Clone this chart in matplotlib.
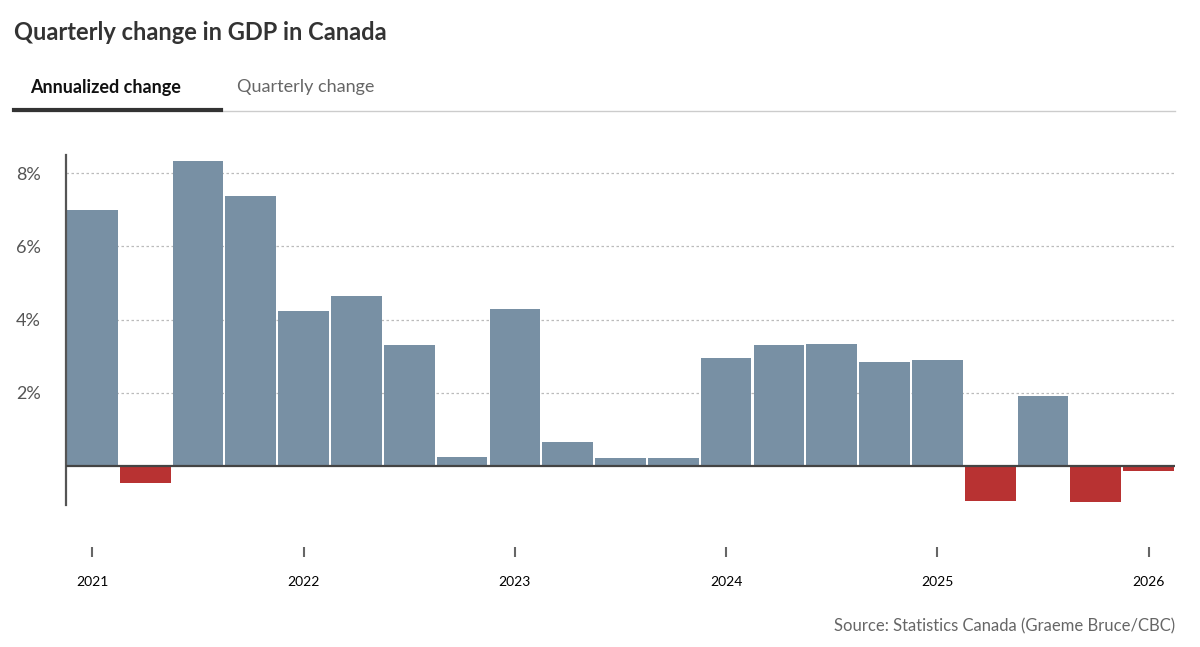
import matplotlib
matplotlib.use("Agg")
import matplotlib.pyplot as plt
from matplotlib.lines import Line2D

plt.rcParams['font.family'] = ['Lato', 'DejaVu Sans']

quarters = ["2021Q1","2021Q2","2021Q3","2021Q4","2022Q1","2022Q2","2022Q3","2022Q4",
            "2023Q1","2023Q2","2023Q3","2023Q4","2024Q1","2024Q2","2024Q3","2024Q4",
            "2025Q1","2025Q2","2025Q3","2025Q4","2026Q1"]
values = [7.0, -0.46, 8.33, 7.38, 4.23, 4.64, 3.3, 0.25, 4.29, 0.66, 0.22, 0.22,
          2.95, 3.3, 3.33, 2.84, 2.9, -0.96, 1.91, -0.98, -0.14]
year_labels = ["2021", "2022", "2023", "2024", "2025", "2026"]
year_idx = [0, 4, 8, 12, 16, 20]
yticks = [2, 4, 6, 8]

W, H = 1200, 647
fig = plt.figure(figsize=(12, 6.47), dpi=100)
ax = fig.add_axes([66/W, 1-505/H, (1175-66)/W, 350/H])

x = list(range(len(values)))
colors = ["#7890a4" if v >= 0 else "#b83232" for v in values]
ax.bar(x, values, width=0.96, color=colors, zorder=2)
ax.set_xlim(-0.5, 20.5)
ax.set_ylim(-1.066, 8.5)

ax.set_yticks(yticks)
ax.set_yticklabels([f"{t}%" for t in yticks], fontsize=13, color="#555")
ax.tick_params(axis='y', length=0, pad=18)
ax.grid(axis='y', linestyle=(0, (2, 2)), color="#bbb", linewidth=0.9, zorder=0)
ax.axhline(0, color="#444", linewidth=1.6, zorder=3)

ax.set_xticks(year_idx)
ax.set_xticklabels(year_labels, fontsize=13, color="#555")
ax.spines['bottom'].set_position(('outward', 30))
ax.spines['bottom'].set_visible(False)
ax.tick_params(axis='x', length=7, width=1.5, color="#666", pad=14)

for s in ['top', 'right']:
    ax.spines[s].set_visible(False)
ax.spines['left'].set_color("#555")
ax.spines['left'].set_linewidth(1.6)

fig.text(14/W, 1-32/H, "Quarterly change in GDP in Canada", fontsize=17, fontweight='bold',
         color="#333", va='center', ha='left')
fig.text(30/W, 1-87/H, "Annualized change", fontsize=13, fontweight='bold',
         color="#111", va='center', ha='left')
fig.text(237/W, 1-87/H, "Quarterly change", fontsize=13, color="#666", va='center', ha='left')
fig.add_artist(Line2D([14/W, 1175/W], [1-111/H, 1-111/H], color="#ccc", linewidth=1))
fig.add_artist(Line2D([14/W, 221/W], [1-110/H, 1-110/H], color="#333", linewidth=3))
fig.text(1175/W, 1-626/H, "Source: Statistics Canada (Graeme Bruce/CBC)", fontsize=12,
         color="#666", va='center', ha='right')

fig.savefig("out.png", dpi=100, facecolor="white")
